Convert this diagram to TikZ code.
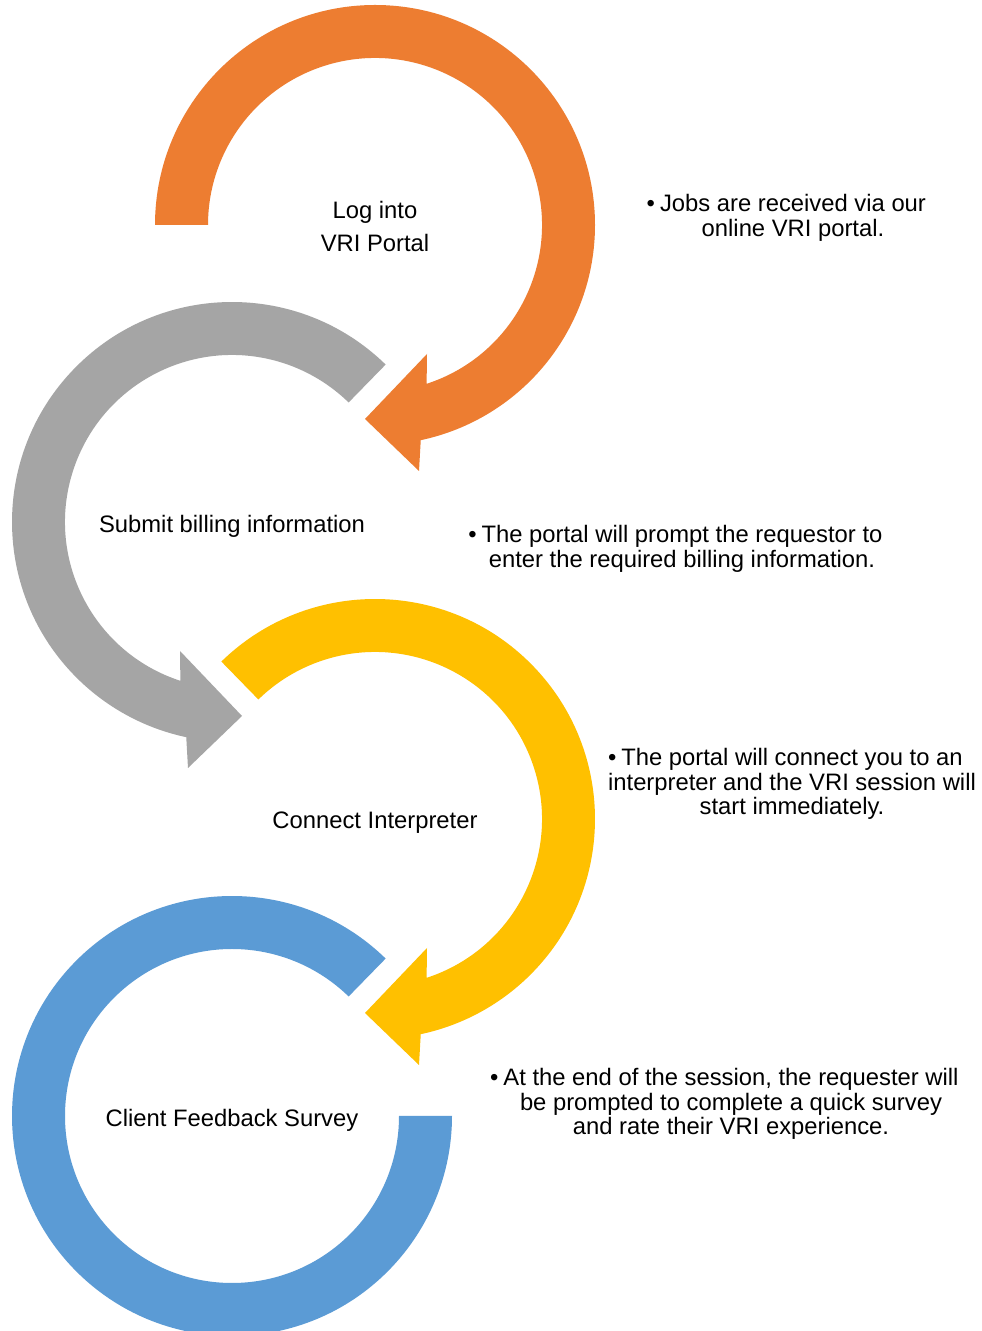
\documentclass[tikz,border=0pt]{standalone}
\usepackage{fontspec}
\setmainfont{Liberation Sans}
\definecolor{corange}{HTML}{ED7D31}
\definecolor{cgray}{HTML}{A5A5A5}
\definecolor{cyellow}{HTML}{FFC000}
\definecolor{cblue}{HTML}{5B9BD5}
% clockwise ring arrow in local coordinates (centre at origin), #1 = start angle
\newcommand\cwringarrow[1]{%
  (#1:220) arc[start angle=#1, end angle=-78, radius=220]
  -- (44,-246) -- (-10,-194) -- (52,-129)
  -- (-72:167) arc[start angle=-72, end angle=#1, radius=167] -- cycle}
\newcommand\bul{\llap{•\hspace{5pt}}}
\tikzset{
  steplabel/.style={font=\fontsize{23.8}{33}\selectfont, align=center, inner sep=0pt},
  notetext/.style={font=\fontsize{23.8}{24.5}\selectfont, align=center, inner sep=0pt},
}
\begin{document}
\begin{tikzpicture}[x=1pt,y=1pt]
  \clip (0,0) rectangle (982,1331);
  \fill[white] (0,0) rectangle (982,1331);
  % orange
  \begin{scope}[shift={(375,1106)}]
    \fill[corange] \cwringarrow{180};
  \end{scope}
  % gray (mirrored)
  \begin{scope}[shift={(232,809)}, xscale=-1]
    \fill[cgray] \cwringarrow{134.3};
  \end{scope}
  % yellow
  \begin{scope}[shift={(375,512)}]
    \fill[cyellow] \cwringarrow{134.3};
  \end{scope}
  % blue
  \begin{scope}[shift={(232,215)}]
    \fill[cblue] (45.7:220) arc[start angle=45.7, end angle=360, radius=220]
      -- (0:167) arc[start angle=360, end angle=45.7, radius=167] -- cycle;
  \end{scope}
  % step labels
  \node[steplabel] (s1) at (375,1104.5) {Log into\\VRI Portal};
  \node[steplabel] (s2) at (232,805) {Submit billing information};
  \node[steplabel] (s3) at (375,508) {Connect Interpreter};
  \node[steplabel] (s4) at (232,211) {Client Feedback Survey};
  % notes
  \node[notetext] (n1) at (793,1113) {\bul Jobs are received via our\\online VRI portal.};
  \node[notetext] (n2) at (682,782) {\bul The portal will prompt the requestor to\\enter the required billing information.};
  \node[notetext] (n3) at (792,547) {\bul The portal will connect you to an\\interpreter and the VRI session will\\start immediately.};
  \node[notetext] (n4) at (731,227) {\bul At the end of the session, the requester will\\be prompted to complete a quick survey\\and rate their VRI experience.};
\end{tikzpicture}
\end{document}
